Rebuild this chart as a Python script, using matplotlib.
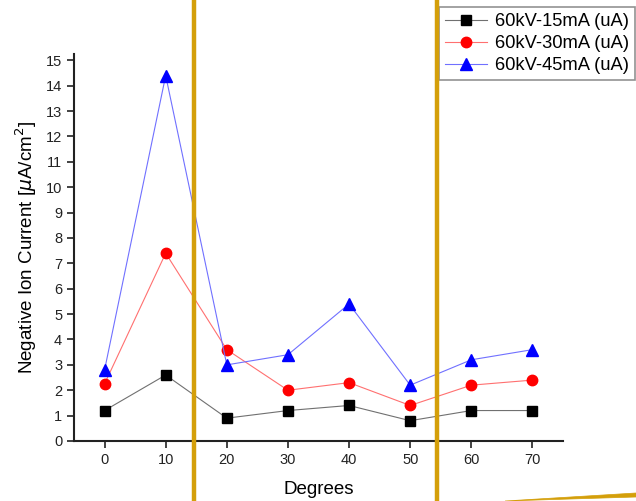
import matplotlib
matplotlib.use("Agg")
import matplotlib.pyplot as plt
from matplotlib.lines import Line2D
from matplotlib.patches import Polygon

plt.rcParams['font.family'] = ['Liberation Sans', 'DejaVu Sans']

degrees = [0, 10, 20, 30, 40, 50, 60, 70]
s15 = [1.2, 2.6, 0.9, 1.2, 1.4, 0.8, 1.2, 1.2]
s30 = [2.25, 7.4, 3.6, 2.0, 2.3, 1.4, 2.2, 2.4]
s45 = [2.8, 14.4, 3.0, 3.4, 5.4, 2.2, 3.2, 3.6]
labels = ["60kV-15mA (uA)", "60kV-30mA (uA)", "60kV-45mA (uA)"]
yticks = list(range(0, 16))
xticks = [0, 10, 20, 30, 40, 50, 60, 70]

fig = plt.figure(figsize=(6.36, 5.01), dpi=100)
ax = fig.add_axes([74/636, 60/501, (563-74)/636, (441-54)/501])

ax.plot(degrees, s15, color='#707070', lw=0.8, marker='s', ms=6.5, mfc='black', mec='black', label=labels[0])
ax.plot(degrees, s30, color='#ff7070', lw=0.8, marker='o', ms=7.5, mfc='red', mec='red', label=labels[1])
ax.plot(degrees, s45, color='#7070ff', lw=0.8, marker='^', ms=8.5, mfc='blue', mec='blue', label=labels[2])

ax.set_xlim(-5, 75)
ax.set_ylim(0, 15.25)
ax.set_xticks(xticks)
ax.set_yticks(yticks)
ax.spines['top'].set_visible(False)
ax.spines['right'].set_visible(False)
for sp in ['left', 'bottom']:
    ax.spines[sp].set_linewidth(1.5)
    ax.spines[sp].set_color('#222222')
ax.tick_params(direction='out', length=5, width=1.2, labelsize=10.5, colors='#222222')
ax.set_xlabel("Degrees", fontsize=13.5, labelpad=10)
ax.set_ylabel("Negative Ion Current [$\\mu$A/cm$^2$]", fontsize=13.5, labelpad=5)

handles, labs = ax.get_legend_handles_labels()
leg = fig.legend(handles, labs, loc='upper left', bbox_to_anchor=(439/636, 1 - 7/501),
                 bbox_transform=fig.transFigure, fontsize=13.2, frameon=True, fancybox=False,
                 edgecolor='#777777', borderpad=0.33, handlelength=2.3, labelspacing=0.28,
                 borderaxespad=0, handletextpad=0.4)
leg.get_frame().set_linewidth(1.2)

gold = '#D49F0A'
for xp in [194, 437]:
    fig.add_artist(Line2D([xp/636, xp/636], [0, 1], transform=fig.transFigure, color=gold, lw=3.2, zorder=10))

poly = Polygon([(505/636, 0), (636/636, 8/501), (636/636, 4/501), (505/636, 0)], closed=True,
               transform=fig.transFigure, facecolor=gold, edgecolor=gold, lw=0.5, zorder=10)
fig.add_artist(poly)

fig.savefig("out.png", dpi=100)
